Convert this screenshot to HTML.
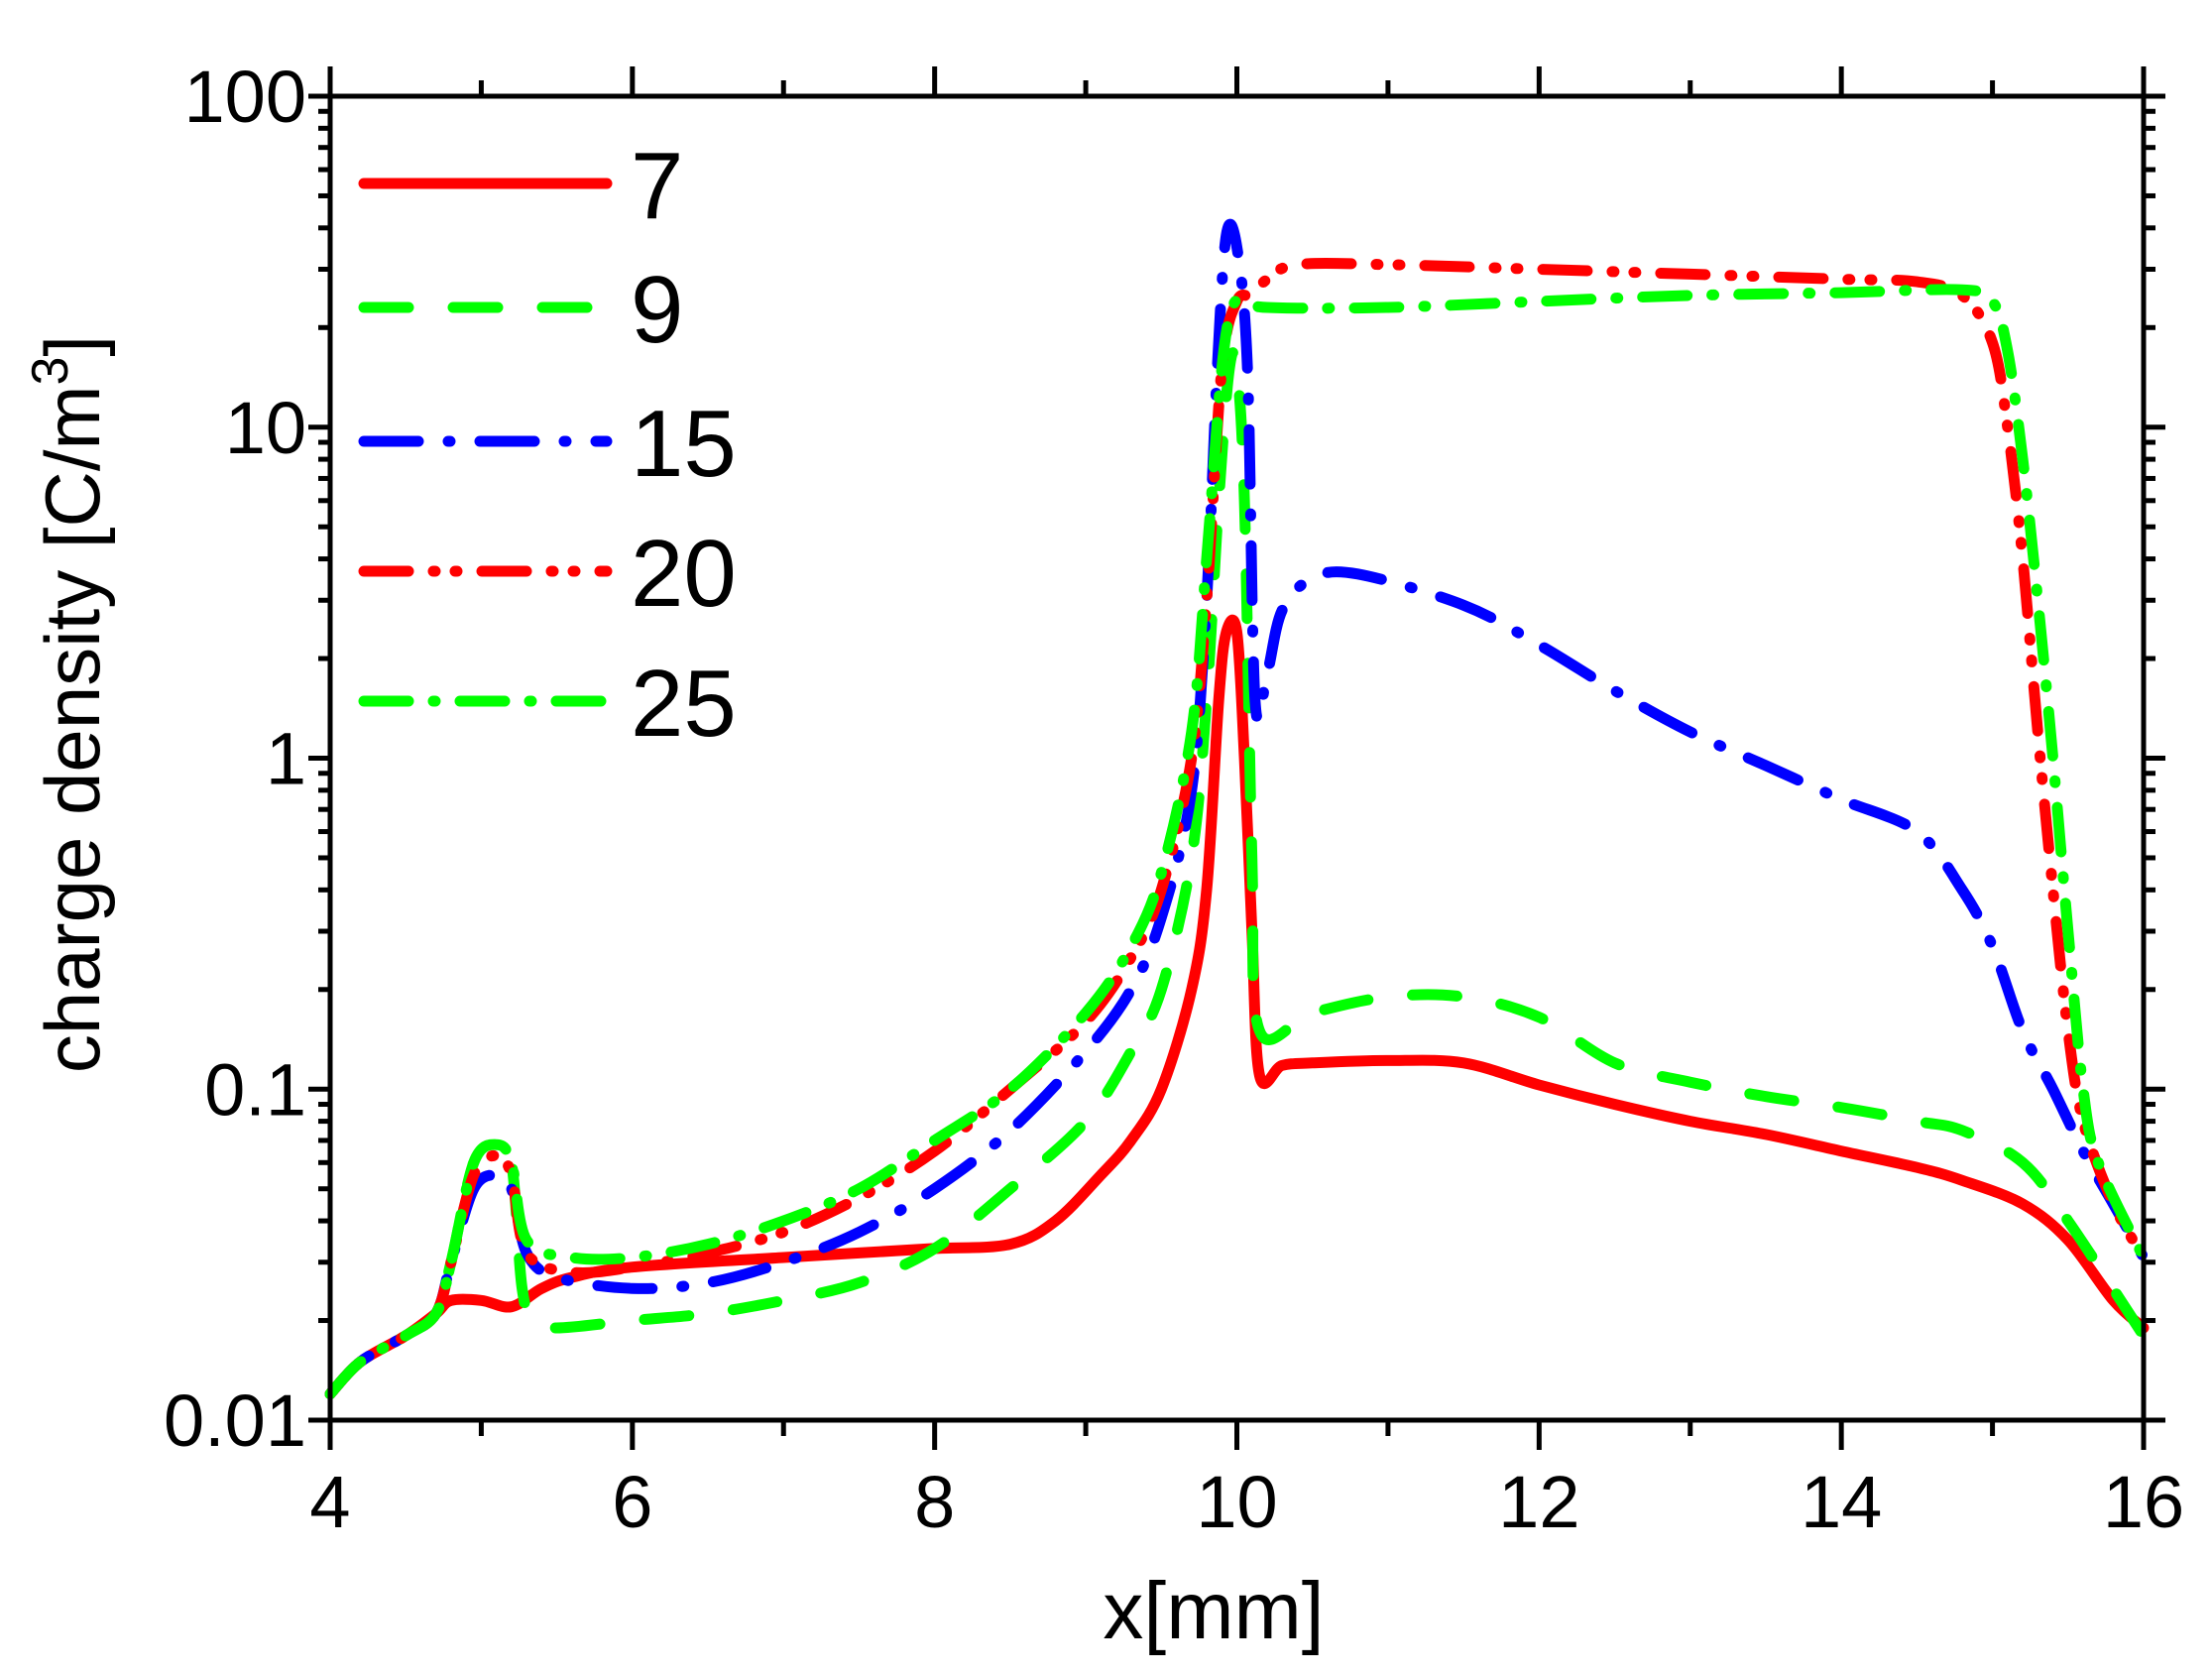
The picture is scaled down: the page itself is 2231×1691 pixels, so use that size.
<!DOCTYPE html>
<html><head><meta charset="utf-8"><style>
html,body{margin:0;padding:0;background:#fff}
svg{display:block}
text{font-family:"Liberation Sans",Arial,sans-serif;fill:#000}
</style></head><body>
<svg id="s" width="2231" height="1691" viewBox="0 0 2231 1691" xmlns="http://www.w3.org/2000/svg">
<g id="curves" fill="none" stroke-linecap="round" stroke-linejoin="round" stroke-width="11"></g>
<g id="axes" stroke="#000" stroke-width="5" fill="none"></g>
<g id="labels" font-size="74"></g>
<text x="1224" y="1652" font-size="82" text-anchor="middle">x[mm]</text>
<text transform="translate(100,710) rotate(-90)" font-size="78" text-anchor="middle">charge density [C/m<tspan dy="-32" font-size="52">3</tspan><tspan dy="32">]</tspan></text>
<g id="legend" font-size="96"></g>
</svg>
<script>
var L=333,R=2162,T=97,B=1432;
function X(x){return L+(x-4)/12*(R-L);}
function Y(v){return T+(2-Math.log10(v))/4*(B-T);}
var NS="http://www.w3.org/2000/svg";
function el(p,n,a){var e=document.createElementNS(NS,n);for(var k in a)e.setAttribute(k,a[k]);p.appendChild(e);return e;}
function path(d){var p=d.map(function(q){return [X(q[0]),Y(q[1])];});var s="M"+p[0][0].toFixed(1)+","+p[0][1].toFixed(1);
for(var i=0;i<p.length-1;i++){var p0=p[i-1]||p[i],p1=p[i],p2=p[i+1],p3=p[i+2]||p2;var t=6;
s+=" C"+(p1[0]+(p2[0]-p0[0])/t).toFixed(1)+","+(p1[1]+(p2[1]-p0[1])/t).toFixed(1)+" "+(p2[0]-(p3[0]-p1[0])/t).toFixed(1)+","+(p2[1]-(p3[1]-p1[1])/t).toFixed(1)+" "+p2[0].toFixed(1)+","+p2[1].toFixed(1);}
return s;}
var start=[[4,0.012],[4.2,0.015],[4.5,0.018],[4.7,0.021]];
var S=[
{c:"#ff0000",d:"",data:start.concat([[4.8,0.023],[5.0,0.023],[5.2,0.022],[5.4,0.025],[5.6,0.027],[6,0.029],[7,0.031],[7.5,0.032],[8,0.033],[8.5,0.034],[8.8,0.04],[9.1,0.055],[9.3,0.07],[9.5,0.1],[9.7,0.2],[9.8,0.4],[9.88,1.5],[9.93,2.4],[10.0,2.4],[10.05,1.0],[10.1,0.3],[10.15,0.11],[10.3,0.118],[10.5,0.12],[11,0.122],[11.5,0.12],[12,0.103],[12.5,0.09],[13,0.08],[13.5,0.073],[14,0.065],[14.5,0.058],[14.8,0.053],[15.2,0.045],[15.5,0.035],[15.8,0.023],[16,0.019]])},
{c:"#00ff00",d:"45 45",data:start.concat([[4.8,0.03],[4.95,0.06],[5.1,0.068],[5.2,0.06],[5.27,0.025],[5.35,0.02],[5.5,0.019],[6,0.02],[6.5,0.021],[7,0.023],[7.5,0.026],[8,0.033],[8.5,0.05],[9,0.08],[9.3,0.13],[9.5,0.2],[9.7,0.5],[9.8,1.5],[9.88,6],[9.95,15],[10.0,15],[10.05,6],[10.1,0.5],[10.15,0.15],[10.5,0.17],[11,0.19],[11.5,0.19],[12,0.165],[12.5,0.12],[13,0.105],[13.5,0.095],[14,0.088],[14.5,0.08],[14.8,0.075],[15.2,0.06],[15.5,0.04],[16,0.018]])},
{c:"#0000ff",d:"55 30 2 30",data:start.concat([[4.8,0.03],[4.95,0.05],[5.1,0.055],[5.2,0.05],[5.3,0.032],[5.5,0.027],[6,0.025],[6.5,0.026],[7,0.03],[7.5,0.037],[8,0.05],[8.5,0.075],[9,0.13],[9.3,0.2],[9.5,0.33],[9.7,0.8],[9.8,3],[9.87,15],[9.93,38],[10.0,35],[10.07,15],[10.12,1.5],[10.2,1.8],[10.3,2.8],[10.5,3.5],[10.8,3.6],[11.5,2.9],[12,2.2],[12.5,1.6],[13,1.2],[13.5,0.95],[14,0.75],[14.5,0.6],[14.8,0.4],[15,0.27],[15.2,0.15],[15.4,0.1],[15.6,0.065],[15.8,0.045],[16,0.031]])},
{c:"#ff0000",d:"45 25 2 20 2 25",data:start.concat([[4.8,0.03],[4.95,0.055],[5.1,0.063],[5.2,0.055],[5.3,0.032],[5.6,0.028],[6,0.029],[6.5,0.032],[7,0.037],[7.5,0.047],[8,0.065],[8.5,0.1],[9,0.16],[9.3,0.25],[9.5,0.4],[9.7,1],[9.8,3],[9.9,15],[10.0,24],[10.1,25],[10.2,28],[10.4,31],[11,31],[12,30],[13,29],[14,28],[14.5,27.5],[14.8,25],[15.0,18],[15.1,10],[15.2,4],[15.3,1.2],[15.4,0.4],[15.5,0.15],[15.6,0.08],[15.8,0.045],[16,0.031]])},
{c:"#00ff00",d:"45 25 2 25",data:start.concat([[4.8,0.03],[4.95,0.06],[5.1,0.068],[5.2,0.06],[5.3,0.035],[5.6,0.031],[6,0.031],[6.5,0.034],[7,0.04],[7.5,0.05],[8,0.07],[8.5,0.1],[9,0.17],[9.3,0.27],[9.5,0.45],[9.7,1.2],[9.8,4],[9.9,15],[9.97,23],[10.05,24],[10.2,23],[11,23],[12,24],[13,25],[14,25.5],[14.8,26],[15,24],[15.1,17],[15.2,8],[15.3,3],[15.4,1],[15.5,0.3],[15.6,0.1],[15.7,0.06],[16,0.031]])}
];
var cg=document.getElementById("curves");
S.forEach(function(s){var a={d:path(s.data),stroke:s.c};if(s.d)a["stroke-dasharray"]=s.d;el(cg,"path",a);});
var ag=document.getElementById("axes"),lg=document.getElementById("labels");
el(ag,"rect",{x:L,y:T,width:R-L,height:B-T});
for(var x=4;x<=16;x++){var px=X(x),len=(x%2==0)?30:16;
el(ag,"line",{x1:px,y1:B,x2:px,y2:B+len});el(ag,"line",{x1:px,y1:T,x2:px,y2:T-len});
if(x%2==0){var t=el(lg,"text",{x:px,y:1540,"text-anchor":"middle"});t.textContent=x;}}
var yl=["0.01","0.1","1","10","100"];
for(var e=-2;e<=2;e++){var py=Y(Math.pow(10,e));
el(ag,"line",{x1:L-22,y1:py,x2:L,y2:py});el(ag,"line",{x1:R,y1:py,x2:R+22,y2:py});
var t=el(lg,"text",{x:L-24,y:py+26,"text-anchor":"end"});t.textContent=yl[e+2];
if(e<2)for(var m=2;m<=9;m++){var q=Y(m*Math.pow(10,e));el(ag,"line",{x1:L-12,y1:q,x2:L,y2:q});el(ag,"line",{x1:R,y1:q,x2:R+12,y2:q});}}
var leg=document.getElementById("legend"),names=["7","9","15","20","25"],ys=[185,310,445,576,707];
S.forEach(function(s,i){var a={x1:367,y1:ys[i],x2:612,y2:ys[i],stroke:s.c,"stroke-width":11,"stroke-linecap":"round"};if(s.d)a["stroke-dasharray"]=s.d;el(leg,"line",a);
var t=el(leg,"text",{x:636,y:ys[i]+35});t.textContent=names[i];});
</script>
</body></html>
